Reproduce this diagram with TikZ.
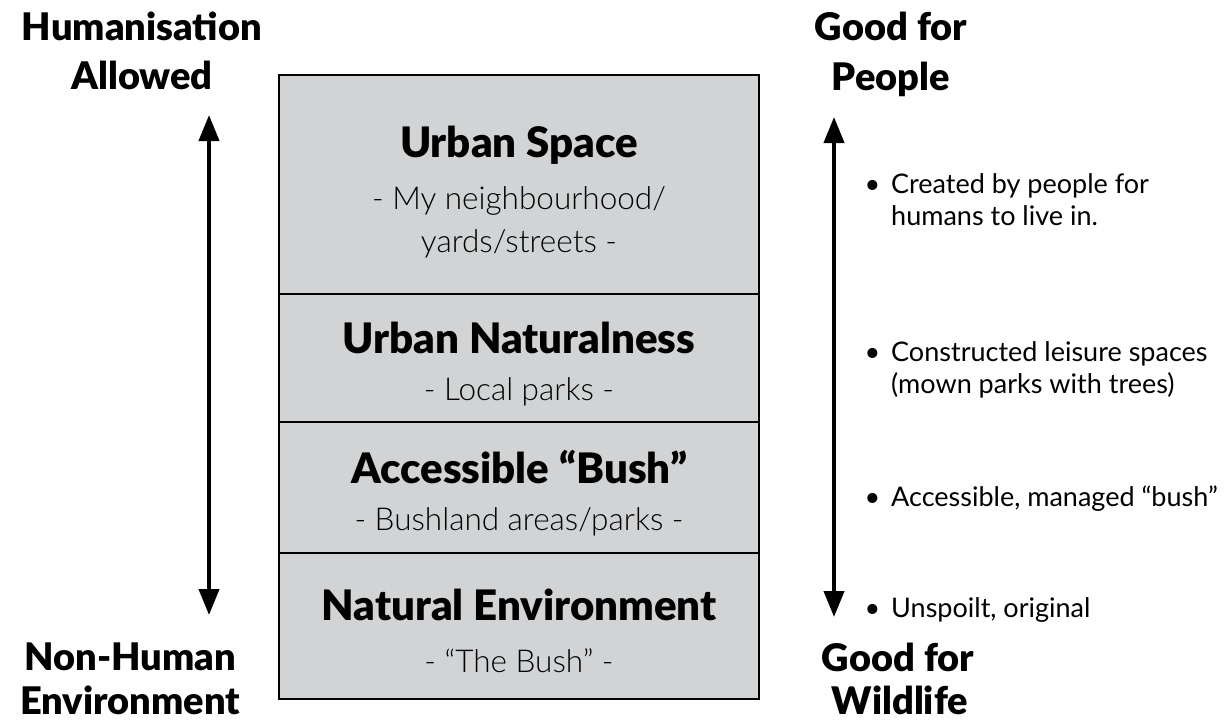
\documentclass[tikz,border=0pt]{standalone}
\usepackage{fontspec}
\setmainfont{Lato}
\newfontfamily\lightfont{Lato Light}
\newfontfamily\heavyfont{Lato Black}
\usetikzlibrary{arrows.meta}
\definecolor{bandgrey}{HTML}{D1D3D4}
\begin{document}
\begin{tikzpicture}[x=1pt,y=-1pt,
  band/.style={draw=black, line width=2.6pt, fill=bandgrey, minimum width=480pt,
    inner sep=0pt, outer sep=0pt},
  head/.style={font=\fontsize{42}{48}\selectfont\heavyfont, inner sep=0pt, anchor=base},
  sub/.style={font=\fontsize{31.5}{40}\selectfont\lightfont, inner sep=0pt, anchor=base},
  axislabel/.style={font=\fontsize{38}{46}\selectfont\heavyfont, inner sep=0pt, anchor=base},
  note/.style={font=\fontsize{27}{32}\selectfont, inner sep=0pt, anchor=base west},
  scalearrow/.style={line width=4pt,
    {Triangle[length=26pt,width=20pt]}-{Triangle[length=26pt,width=20pt]}}
]
\useasboundingbox (0,0) rectangle (1230,720);

% stacked bands of the scale
\node[band, minimum height=219pt] (urban)   at (519,184.5) {};
\node[band, minimum height=128pt] (natural) at (519,358)   {};
\node[band, minimum height=131pt] (access)  at (519,487.5) {};
\node[band, minimum height=146pt] (wild)    at (519,626)   {};

% band texts
\node[head] (urbanT)   at (519,157) {Urban Space};
\node[sub]  (urbanS1)  at (519,209) {- My neighbourhood/};
\node[sub]  (urbanS2)  at (519,252) {yards/streets -};
\node[head] (naturalT) at (519,353) {Urban Naturalness};
\node[sub]  (naturalS) at (519,400) {- Local parks -};
\node[head] (accessT)  at (519,483) {Accessible “Bush”};
\node[sub]  (accessS)  at (519,530) {- Bushland areas/parks -};
\node[head] (wildT)    at (519,620) {Natural Environment};
\node[sub]  (wildS)    at (519,672) {- “The Bush” -};

% left axis
\node[axislabel] (hum1) at (142,40)  {Humanisation};
\node[axislabel] (hum2) at (142,89)  {Allowed};
\node[axislabel] (non1) at (130,670) {Non-Human};
\node[axislabel] (non2) at (130,714) {Environment};
\coordinate (leftTop) at (209,115);
\coordinate (leftBot) at (209,615);
\draw[scalearrow] (leftBot) -- (leftTop);

% right axis
\node[axislabel] (peo1) at (891,40)  {Good for};
\node[axislabel] (peo2) at (891,90)  {People};
\node[axislabel] (wil1) at (898,671) {Good for};
\node[axislabel] (wil2) at (900,714) {Wildlife};
\coordinate (rightTop) at (834,117);
\coordinate (rightBot) at (834,617);
\draw[scalearrow] (rightBot) -- (rightTop);

% notes beside the right axis
\node[note] (n1) at (891,193) {\llap{\textbullet\hspace{11pt}}\begin{tabular}[t]{@{}l@{}}Created by people for\\humans to live in.\end{tabular}};
\node[note] (n2) at (891,361) {\llap{\textbullet\hspace{11pt}}\begin{tabular}[t]{@{}l@{}}Constructed leisure spaces\\(mown parks with trees)\end{tabular}};
\node[note] (n3) at (891,506) {\llap{\textbullet\hspace{11pt}}Accessible, managed “bush”};
\node[note] (n4) at (891,617) {\llap{\textbullet\hspace{11pt}}Unspoilt, original};
\end{tikzpicture}
\end{document}
